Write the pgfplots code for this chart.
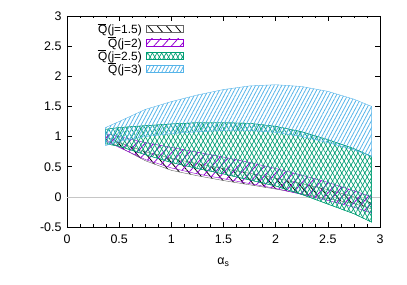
\documentclass[border=0pt]{standalone}
\usepackage{fontspec}
\setmainfont{Liberation Sans}
\usepackage{pgfplots}
\pgfplotsset{compat=1.18}
\usetikzlibrary{patterns.meta}
\definecolor{gpurple}{HTML}{9400D3}
\definecolor{ggreen}{HTML}{009E73}
\definecolor{gblue}{HTML}{56B4E9}
\newcommand\Qbar{\leavevmode\rlap{\hspace{-0.05em}\rule[0.80em]{0.72em}{0.07em}}Q}
\begin{document}
\begin{tikzpicture}
\useasboundingbox (-67bp,-58bp) rectangle (340bp,227bp);
\begin{axis}[
  at={(0,0)}, anchor=south west,
  scale only axis, width=313bp, height=211bp,
  xmin=0, xmax=3, ymin=-0.5, ymax=3,
  xtick={0,0.5,...,3}, ytick={-0.5,0,0.5,1,1.5,2,2.5,3},
  minor x tick num=3,
  tick align=inside,
  major tick length=5bp, minor tick length=2.5bp,
  axis line style={line width=0.8bp},
  every tick/.style={black, line width=0.5bp},
  /pgf/number format/assume math mode=true,
  tick label style={font=\fontsize{12.5}{13}\selectfont},
  xticklabel style={yshift=-4bp},
  yticklabel style={xshift=-2bp},
  xlabel={α\textsubscript{s}},
  xlabel style={font=\fontsize{12.5}{13}\selectfont, yshift=-8bp},
  legend plot pos=right,
  legend cell align=right,
  legend style={at={(0.374,0.968)}, anchor=north east, draw=none, fill=none,
    font=\fontsize{12}{12}\selectfont, inner sep=0pt,
    row sep=0.2bp, column sep=4bp,
    nodes={inner sep=0.6bp}},
  legend image code/.code={\draw[#1, line width=0.5bp] (0bp,-3bp) rectangle (37bp,4bp);},
]
% zero line
\addplot[gray!45, line width=0.6bp, forget plot] coordinates {(0,0) (3,0)};

% j=1.5
\addplot[draw=black!60, line width=0.4bp, pattern={Lines[angle=-50,distance=7bp,line width=0.8bp]}, pattern color=black] coordinates {
(0.37,1.00) (0.5,0.90) (0.75,0.75) (1.0,0.64) (1.25,0.55) (1.5,0.47) (1.75,0.39) (2.0,0.31) (2.25,0.22) (2.5,0.12) (2.75,0.0) (2.92,-0.1)
(2.92,-0.20) (2.75,-0.11) (2.5,-0.03) (2.25,0.05) (2.0,0.13) (1.75,0.20) (1.5,0.27) (1.25,0.35) (1.0,0.44) (0.75,0.60) (0.5,0.83) (0.37,0.95)} -- cycle;
\addlegendentry{\Qbar(j=1.5)}

% j=2
\addplot[draw=gpurple, line width=0.4bp, pattern={Lines[angle=48,distance=6.5bp,line width=0.8bp]}, pattern color=gpurple] coordinates {
(0.37,1.05) (0.5,1.00) (0.75,0.90) (1.0,0.82) (1.25,0.74) (1.5,0.66) (1.75,0.57) (2.0,0.47) (2.25,0.36) (2.5,0.24) (2.75,0.10) (2.92,0.0)
(2.92,-0.27) (2.75,-0.17) (2.5,-0.06) (2.25,0.04) (2.0,0.14) (1.75,0.22) (1.5,0.30) (1.25,0.38) (1.0,0.48) (0.75,0.62) (0.5,0.82) (0.37,0.93)} -- cycle;
\addlegendentry{\Qbar(j=2)}

% j=2.5
\addplot[draw=ggreen, line width=0.4bp, pattern={Lines[angle=60,distance=4bp,line width=0.7bp]}, pattern color=ggreen,
  postaction={pattern={Lines[angle=-60,distance=4bp,line width=0.7bp]}, pattern color=ggreen}] coordinates {
(0.37,1.12) (0.5,1.15) (0.75,1.18) (1.0,1.21) (1.25,1.23) (1.5,1.23) (1.75,1.22) (2.0,1.17) (2.25,1.08) (2.5,0.95) (2.75,0.80) (2.92,0.67)
(2.92,-0.42) (2.75,-0.28) (2.5,-0.12) (2.25,0.04) (2.0,0.18) (1.75,0.28) (1.5,0.38) (1.25,0.47) (1.0,0.57) (0.75,0.70) (0.5,0.84) (0.37,0.88)} -- cycle;
\addlegendentry{\Qbar(j=2.5)}

% j=3
\addplot[draw=gblue, line width=0.4bp, pattern={Lines[angle=62,distance=3.3bp,line width=0.8bp]}, pattern color=gblue] coordinates {
(0.37,1.15) (0.5,1.25) (0.75,1.45) (1.0,1.58) (1.25,1.69) (1.5,1.78) (1.75,1.84) (2.0,1.86) (2.25,1.83) (2.5,1.75) (2.75,1.62) (2.92,1.50)
(2.92,0.67) (2.75,0.78) (2.5,0.90) (2.25,1.00) (2.0,1.07) (1.75,1.10) (1.5,1.10) (1.25,1.08) (1.0,1.05) (0.75,1.00) (0.5,0.92) (0.37,0.85)} -- cycle;
\addlegendentry{\Qbar(j=3)}
\end{axis}
\end{tikzpicture}
\end{document}
